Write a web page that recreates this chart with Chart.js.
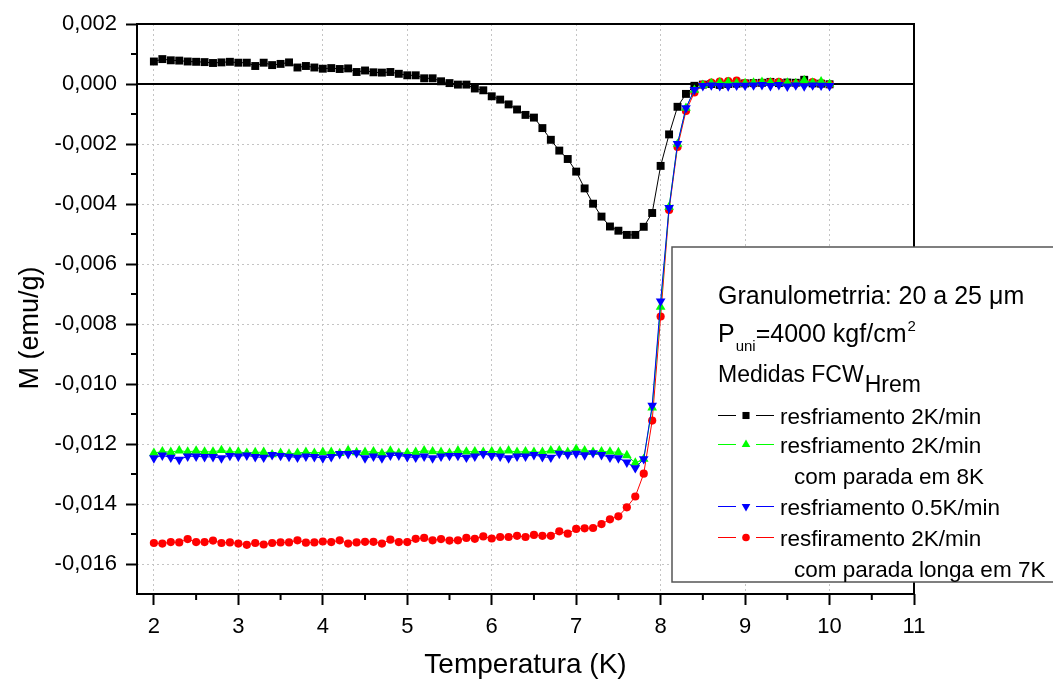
<!DOCTYPE html>
<html>
<head>
<meta charset="utf-8">
<script src="https://cdn.jsdelivr.net/npm/chart.js@4/dist/chart.umd.min.js"></script>
<style>
  html, body { margin: 0; padding: 0; background: #fff; }
  #wrap { width: 1053px; height: 682px; }
</style>
</head>
<body>
<div id="wrap"><canvas id="myChart" width="1053" height="682"></canvas></div>
<script>
// temperatures (K), shared by all four runs
const temps = [
  2.0, 2.1, 2.2, 2.3, 2.4, 2.5, 2.6, 2.7, 2.8, 2.9,
  3.0, 3.1, 3.2, 3.3, 3.4, 3.5, 3.6, 3.7, 3.8, 3.9,
  4.0, 4.1, 4.2, 4.3, 4.4, 4.5, 4.6, 4.7, 4.8, 4.9,
  5.0, 5.1, 5.2, 5.3, 5.4, 5.5, 5.6, 5.7, 5.8, 5.9,
  6.0, 6.1, 6.2, 6.3, 6.4, 6.5, 6.6, 6.7, 6.8, 6.9,
  7.0, 7.1, 7.2, 7.3, 7.4, 7.5, 7.6, 7.7, 7.8, 7.9,
  8.0, 8.1, 8.2, 8.3, 8.4, 8.5, 8.6, 8.7, 8.8, 8.9,
  9.0, 9.1, 9.2, 9.3, 9.4, 9.5, 9.6, 9.7, 9.8, 9.9, 10.0
];

// M (emu/g) for each run
const mBlack = [
  0.00075, 0.00083, 0.00079, 0.00078, 0.00075, 0.00074, 0.00073, 0.00070, 0.00072, 0.00074,
  0.00071, 0.00071, 0.00060, 0.00071, 0.00063, 0.00067, 0.00072, 0.00055, 0.00060, 0.00055,
  0.00051, 0.00053, 0.00050, 0.00052, 0.00040, 0.00045, 0.00039, 0.00038, 0.00040, 0.00034,
  0.00029, 0.00029, 0.00019, 0.00019, 0.00009, 0.00003, -0.00002, -0.00002, -0.00015, -0.00021,
  -0.00041, -0.00052, -0.00068, -0.00085, -0.00103, -0.00112, -0.00147, -0.00186, -0.00222, -0.00250,
  -0.00292, -0.00348, -0.00399, -0.00442, -0.00475, -0.00489, -0.00503, -0.00503, -0.00476, -0.00430,
  -0.00273, -0.00168, -0.00076, -0.00033, -0.00006, -0.00002, 0.00000, -0.00003, 0.00000, 0.00001,
  0.00002, 0.00003, 0.00004, 0.00007, 0.00003, 0.00005, 0.00004, 0.00014, 0.00002, 0.00001, -0.00001
];
const mGreen = [
  -0.01230, -0.01225, -0.01227, -0.01222, -0.01226, -0.01223, -0.01226, -0.01226, -0.01221, -0.01226,
  -0.01226, -0.01230, -0.01228, -0.01227, -0.01235, -0.01230, -0.01233, -0.01230, -0.01227, -0.01230,
  -0.01227, -0.01227, -0.01231, -0.01221, -0.01228, -0.01227, -0.01225, -0.01231, -0.01223, -0.01230,
  -0.01230, -0.01227, -0.01222, -0.01225, -0.01227, -0.01230, -0.01222, -0.01226, -0.01225, -0.01227,
  -0.01225, -0.01225, -0.01222, -0.01227, -0.01225, -0.01227, -0.01227, -0.01222, -0.01222, -0.01227,
  -0.01217, -0.01222, -0.01227, -0.01225, -0.01226, -0.01228, -0.01238, -0.01263, -0.01250, -0.01079,
  -0.00743, -0.00410, -0.00200, -0.00080, -0.00020, -0.00004, 0.00002, 0.00005, 0.00006, 0.00003,
  0.00002, 0.00004, 0.00006, 0.00005, 0.00003, 0.00004, 0.00002, 0.00012, 0.00004, 0.00008, 0.00000
];
const mBlue = [
  -0.01247, -0.01238, -0.01245, -0.01252, -0.01241, -0.01241, -0.01243, -0.01243, -0.01247, -0.01239,
  -0.01241, -0.01238, -0.01243, -0.01245, -0.01236, -0.01239, -0.01242, -0.01245, -0.01241, -0.01243,
  -0.01247, -0.01243, -0.01233, -0.01233, -0.01230, -0.01247, -0.01241, -0.01247, -0.01238, -0.01238,
  -0.01243, -0.01245, -0.01241, -0.01247, -0.01241, -0.01239, -0.01239, -0.01245, -0.01241, -0.01233,
  -0.01239, -0.01241, -0.01247, -0.01241, -0.01241, -0.01236, -0.01243, -0.01245, -0.01232, -0.01235,
  -0.01232, -0.01237, -0.01230, -0.01236, -0.01245, -0.01247, -0.01261, -0.01280, -0.01250, -0.01072,
  -0.00724, -0.00413, -0.00199, -0.00080, -0.00019, -0.00006, -0.00004, -0.00006, -0.00007, -0.00005,
  -0.00005, -0.00004, -0.00003, -0.00006, -0.00003, -0.00008, -0.00004, -0.00007, -0.00004, -0.00005, -0.00006
];
const mRed = [
  -0.01530, -0.01532, -0.01527, -0.01528, -0.01517, -0.01527, -0.01527, -0.01522, -0.01530, -0.01528,
  -0.01532, -0.01536, -0.01530, -0.01535, -0.01530, -0.01528, -0.01528, -0.01521, -0.01529, -0.01528,
  -0.01525, -0.01527, -0.01521, -0.01532, -0.01528, -0.01526, -0.01526, -0.01532, -0.01519, -0.01527,
  -0.01527, -0.01516, -0.01513, -0.01521, -0.01517, -0.01522, -0.01521, -0.01513, -0.01516, -0.01508,
  -0.01515, -0.01510, -0.01510, -0.01506, -0.01510, -0.01503, -0.01506, -0.01506, -0.01491, -0.01499,
  -0.01483, -0.01481, -0.01480, -0.01467, -0.01451, -0.01441, -0.01411, -0.01375, -0.01299, -0.01122,
  -0.00775, -0.00420, -0.00210, -0.00090, -0.00028, -0.00002, 0.00005, 0.00008, 0.00010, 0.00011,
  0.00003, 0.00002, 0.00004, 0.00006, 0.00007, 0.00002, 0.00001, 0.00004, 0.00006, 0.00003, -0.00002
];

const xTicks = [2, 3, 4, 5, 6, 7, 8, 9, 10, 11];
const xMinor = [2.5, 3.5, 4.5, 5.5, 6.5, 7.5, 8.5, 9.5, 10.5];
const yTicks = [0.002, 0, -0.002, -0.004, -0.006, -0.008, -0.010, -0.012, -0.014, -0.016];
const yMinor = [0.001, -0.001, -0.003, -0.005, -0.007, -0.009, -0.011, -0.013, -0.015];

const seriesLabels = ['resfriamento 2K/min', 'resfriamento 2K/min', 'resfriamento 0.5K/min', 'resfiramento 2K/min'];
const seriesSubLabels = ['', 'com parada em 8K', '', 'com parada longa em 7K'];

const FONT = '"Liberation Sans", Arial, sans-serif';

function toPoints(vals) {
    return temps.map((t, i) => ({ x: t, y: vals[i] }));
}

function markerPath(ctx, style, x, y, r) {
    ctx.beginPath();
    if (style === 'rect') {
        const s = r * Math.SQRT1_2;
        ctx.rect(x - s, y - s, 2 * s, 2 * s);
    } else if (style === 'circle') {
        ctx.arc(x, y, r, 0, Math.PI * 2);
    } else {
        // triangle, up or down
        const dir = style === 'triDown' ? -1 : 1;
        ctx.moveTo(x, y - dir * r);
        ctx.lineTo(x + r * 0.866, y + dir * r * 0.5);
        ctx.lineTo(x - r * 0.866, y + dir * r * 0.5);
        ctx.closePath();
    }
}

const framePlugin = {
    id: 'frame',
    beforeDatasetsDraw(chart) {
        const { ctx, chartArea: a, scales } = chart;
        // solid zero line
        const y0 = scales.y.getPixelForValue(0);
        ctx.save();
        ctx.strokeStyle = '#000';
        ctx.lineWidth = 2;
        ctx.beginPath();
        ctx.moveTo(a.left, y0);
        ctx.lineTo(a.right, y0);
        ctx.stroke();
        ctx.restore();
    },
    afterDraw(chart) {
        const { ctx, chartArea: a, scales } = chart;
        ctx.save();
        ctx.strokeStyle = '#000';
        ctx.lineWidth = 2;
        // minor ticks
        ctx.beginPath();
        xMinor.forEach(v => {
            const px = scales.x.getPixelForValue(v);
            ctx.moveTo(px, a.bottom);
            ctx.lineTo(px, a.bottom + 6);
        });
        yMinor.forEach(v => {
            const py = scales.y.getPixelForValue(v);
            ctx.moveTo(a.left, py);
            ctx.lineTo(a.left - 6, py);
        });
        ctx.stroke();
        // frame
        ctx.strokeRect(a.left, a.top, a.right - a.left, a.bottom - a.top);

        // y axis title (sits a bit below the axis centre)
        ctx.fillStyle = '#000';
        ctx.font = '27px ' + FONT;
        ctx.textAlign = 'center';
        ctx.textBaseline = 'middle';
        ctx.translate(31, 328);
        ctx.rotate(-Math.PI / 2);
        ctx.fillText('M (emu/g)', 0, 0);
        ctx.restore();

        drawLegend(ctx);
    }
};

function drawLegend(ctx) {
    ctx.save();
    ctx.fillStyle = '#fff';
    ctx.fillRect(672, 247, 400, 335);
    ctx.strokeStyle = '#555';
    ctx.lineWidth = 1.5;
    ctx.strokeRect(672, 247, 400, 335);

    ctx.fillStyle = '#000';
    ctx.textAlign = 'left';
    ctx.textBaseline = 'alphabetic';

    ctx.font = '25px ' + FONT;
    ctx.fillText('Granulometrria: 20 a 25 μm', 718, 304);

    let x = 718;
    ctx.font = '25px ' + FONT;
    ctx.fillText('P', x, 342);
    x += ctx.measureText('P').width + 1;
    ctx.font = '15px ' + FONT;
    ctx.fillText('uni', x, 351);
    x += ctx.measureText('uni').width;
    ctx.font = '25px ' + FONT;
    ctx.fillText('=4000 kgf/cm', x, 342);
    x += ctx.measureText('=4000 kgf/cm').width + 1;
    ctx.font = '15px ' + FONT;
    ctx.fillText('2', x, 331);

    x = 718;
    ctx.font = '23px ' + FONT;
    ctx.fillText('Medidas FCW', x, 382);
    x += ctx.measureText('Medidas FCW').width + 1;
    ctx.fillText('Hrem', x, 392);

    const rows = [
        { color: '#000000', style: 'rect', r: 5, base: 424 },
        { color: '#00ff00', style: 'triUp', r: 5, base: 453 },
        { color: '#0000ff', style: 'triDown', r: 5, base: 515 },
        { color: '#ff0000', style: 'circle', r: 3.8, base: 546 }
    ];
    ctx.font = '22.5px ' + FONT;
    rows.forEach((row, i) => {
        const ly = row.base - 8.5;
        ctx.strokeStyle = row.color;
        ctx.lineWidth = 1;
        ctx.beginPath();
        ctx.moveTo(718, ly); ctx.lineTo(736, ly);
        ctx.moveTo(756, ly); ctx.lineTo(774, ly);
        ctx.stroke();
        ctx.fillStyle = row.color;
        markerPath(ctx, row.style, 746, ly, row.r);
        ctx.fill();
        ctx.fillStyle = '#000';
        ctx.fillText(seriesLabels[i], 780, row.base);
        if (seriesSubLabels[i]) {
            ctx.fillText(seriesSubLabels[i], 794, row.base + 31);
        }
    });
    ctx.restore();
}

function gridColor(ctx, edge) {
    if (ctx.tick && ctx.tick.value === edge) return 'rgba(0,0,0,0)';
    return '#c4c4c4';
}

const canvas = document.getElementById('myChart');
new Chart(canvas, {
    type: 'line',
    data: {
        datasets: [
            {
                label: seriesLabels[0],
                data: toPoints(mBlack),
                borderColor: '#000000',
                backgroundColor: '#000000',
                pointStyle: 'rect',
                pointRadius: 5.6,
                order: 3
            },
            {
                label: seriesLabels[1],
                data: toPoints(mGreen),
                borderColor: '#00ff00',
                backgroundColor: '#00ff00',
                pointStyle: 'triangle',
                pointRadius: 5.6,
                order: 1
            },
            {
                label: seriesLabels[2],
                data: toPoints(mBlue),
                borderColor: '#0000ff',
                backgroundColor: '#0000ff',
                pointStyle: 'triangle',
                pointRotation: 180,
                pointRadius: 5.6,
                order: 0
            },
            {
                label: seriesLabels[3],
                data: toPoints(mRed),
                borderColor: '#ff0000',
                backgroundColor: '#ff0000',
                pointStyle: 'circle',
                pointRadius: 4.1,
                order: 2
            }
        ]
    },
    options: {
        responsive: false,
        animation: false,
        devicePixelRatio: 1,
        layout: { padding: { left: 0, top: 24, right: 139, bottom: 0 } },
        elements: {
            line: { borderWidth: 1, tension: 0 },
            point: { borderWidth: 0, hoverRadius: 5 }
        },
        scales: {
            x: {
                type: 'linear',
                min: 1.8,
                max: 11,
                afterBuildTicks: s => { s.ticks = xTicks.map(v => ({ value: v })); },
                afterFit: s => { s.height = 88; },
                ticks: {
                    color: '#000',
                    font: { family: FONT, size: 22 },
                    padding: 9,
                    maxRotation: 0,
                    callback: v => String(v)
                },
                grid: {
                    color: c => gridColor(c, 11),
                    lineWidth: 1,
                    tickColor: '#000',
                    tickWidth: 2,
                    tickLength: 11,
                    tickBorderDash: []
                },
                border: { display: false, dash: [2, 3] },
                title: {
                    display: true,
                    text: 'Temperatura (K)',
                    color: '#000',
                    font: { family: FONT, size: 28 },
                    padding: { top: 0, bottom: 0 }
                }
            },
            y: {
                type: 'linear',
                min: -0.017,
                max: 0.002,
                afterBuildTicks: s => { s.ticks = yTicks.map(v => ({ value: v })); },
                afterFit: s => { s.width = 137; },
                ticks: {
                    color: '#000',
                    font: { family: FONT, size: 22 },
                    padding: 9,
                    callback: v => v.toFixed(3).replace('.', ',')
                },
                grid: {
                    color: c => gridColor(c, 0.002),
                    lineWidth: 1,
                    tickColor: '#000',
                    tickWidth: 2,
                    tickLength: 11,
                    tickBorderDash: []
                },
                border: { display: false, dash: [2, 3] }
            }
        },
        plugins: {
            legend: { display: false },
            tooltip: { enabled: false }
        }
    },
    plugins: [framePlugin]
});
</script>
</body>
</html>
